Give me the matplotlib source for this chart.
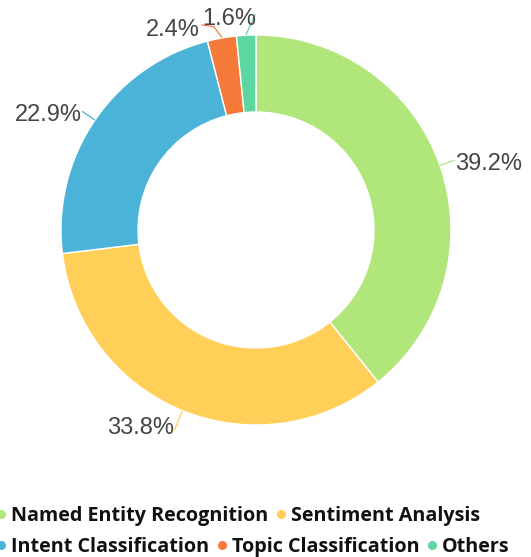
import numpy as np
import matplotlib
matplotlib.use("Agg")
import matplotlib.pyplot as plt
from matplotlib.lines import Line2D

categories = ["Named Entity Recognition", "Sentiment Analysis", "Intent Classification",
              "Topic Classification", "Others"]
values = [39.2, 33.8, 22.9, 2.4, 1.6]
colors = ["#b1e67b", "#ffcf57", "#4cb3d8", "#f57a3a", "#5dd6a2"]
labels = ["39.2%", "33.8%", "22.9%", "2.4%", "1.6%"]

W, H = 531, 557
fig = plt.figure(figsize=(W / 100, H / 100), dpi=100)
ax = fig.add_axes([0, 0, 1, 1])

cx, cy, R = 256, 230, 195
wedges, _ = ax.pie(values, colors=colors, startangle=90, counterclock=False,
                   radius=1.0, wedgeprops=dict(width=0.395, edgecolor="white", linewidth=1.0))
ax.set_aspect("auto")
ax.set_xlim(-cx / R, (W - cx) / R)
ax.set_ylim(-(H - cy) / R, cy / R)
ax.axis("off")

LFS = 17
lab_font = dict(fontsize=LFS, color="#454545", family="Liberation Sans")
TDY = -0.018

label_layout = [
    dict(r=1.08, dx=0.0, dy=0.0),
    dict(r=1.11, dx=0.0, dy=0.03),
    dict(r=1.08, dx=0.0, dy=0.0),
    None,
    None,
]
total = sum(values)
cum = 0
for i, (v, w) in enumerate(zip(values, wedges)):
    mid = 90 - (cum + v / 2) / total * 360
    cum += v
    a = np.deg2rad(mid)
    x0, y0 = np.cos(a), np.sin(a)
    lay = label_layout[i]
    if lay is not None:
        r = lay["r"]
        x1, y1 = r * x0, r * y0
        ax.plot([x0, x1], [y0, y1], color=colors[i], lw=0.9, solid_capstyle="butt")
        ha = "left" if x0 > 0 else "right"
        ax.text(x1 + lay["dx"], y1 + lay["dy"] + TDY, labels[i], ha=ha, va="center", **lab_font)

# small slices at top, manually routed leader lines
a = np.deg2rad(90 - (values[0] + values[1] + values[2] + values[3] / 2) / total * 360)
x0, y0 = np.cos(a), np.sin(a)
xe, ye = (202 - cx) / R, (cy - 25) / R
ax.plot([x0 * 1.005, (x0 * 1.005 + xe) / 2 + 0.01, xe], [y0 * 1.005, (y0 + ye) / 2 + 0.025, ye],
        color=colors[3], lw=0.9)
ax.text(xe - 0.012, ye - 0.01 + TDY, labels[3], ha="right", va="center", **lab_font)

a = np.deg2rad(90 - (total - values[4] / 2) / total * 360)
x0, y0 = np.cos(a), np.sin(a)
xe, ye = (255 - cx) / R, (cy - 15) / R
ax.plot([x0 * 1.005, xe], [y0 * 1.005, ye], color=colors[4], lw=0.9)
ax.text(xe + 0.005, ye + TDY, labels[4], ha="right", va="center", **lab_font)

def handles(idx):
    return [Line2D([], [], marker="o", linestyle="", markersize=5.5,
                   markerfacecolor=colors[i], markeredgecolor=colors[i]) for i in idx]

LGFS = 14.2
em = LGFS * 100 / 72
common = dict(frameon=False, borderpad=0, borderaxespad=0, handlelength=0.6,
              handletextpad=0.2, columnspacing=0.35,
              prop=dict(family="Open Sans", weight="bold", size=LGFS))
x_anchor = (1 - 0.3 * em) / W
leg1 = fig.legend(handles(range(2)), categories[:2], loc="center left", ncol=2,
                  bbox_to_anchor=(x_anchor, 1 - 516 / H), **common)
leg2 = fig.legend(handles(range(2, 5)), categories[2:], loc="center left", ncol=3,
                  bbox_to_anchor=(x_anchor, 1 - 547 / H), **common)
for leg in (leg1, leg2):
    for t in leg.get_texts():
        t.set_color("#111111")

fig.savefig("out.png", dpi=100)
